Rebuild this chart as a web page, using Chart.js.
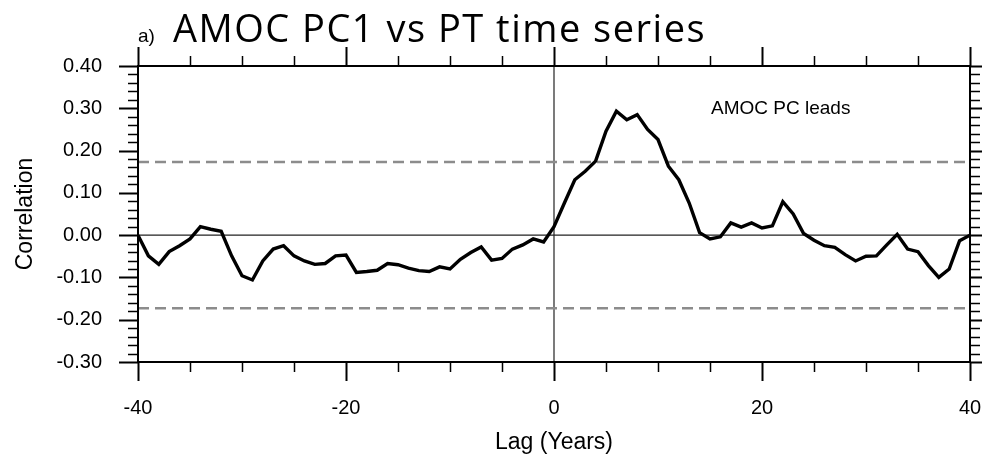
<!DOCTYPE html>
<html>
<head>
<meta charset="utf-8">
<script src="https://cdn.jsdelivr.net/npm/chart.js@4.4.1/dist/chart.umd.min.js"></script>
<style>
  html, body { margin: 0; padding: 0; background: #fff; }
  #wrap { width: 982px; height: 458px; }
</style>
</head>
<body>
<div id="wrap"><canvas id="lagChart" width="982" height="458"></canvas></div>
<script>
// lag in years, AMOC PC1 vs PT correlation
let lags = [-40, -39, -38, -37, -36, -35, -34, -33, -32, -31,
            -30, -29, -28, -27, -26, -25, -24, -23, -22, -21,
            -20, -19, -18, -17, -16, -15, -14, -13, -12, -11,
            -10, -9, -8, -7, -6, -5, -4, -3, -2, -1,
            0, 1, 2, 3, 4, 5, 6, 7, 8, 9,
            10, 11, 12, 13, 14, 15, 16, 17, 18, 19,
            20, 21, 22, 23, 24, 25, 26, 27, 28, 29,
            30, 31, 32, 33, 34, 35, 36, 37, 38, 39, 40];
let correlation = [0.000, -0.049, -0.069, -0.039, -0.025, -0.009, 0.020, 0.014, 0.009, -0.049,
                   -0.096, -0.106, -0.061, -0.033, -0.025, -0.049, -0.061, -0.069, -0.067, -0.049,
                   -0.047, -0.088, -0.086, -0.083, -0.067, -0.070, -0.078, -0.084, -0.086, -0.075,
                   -0.080, -0.057, -0.041, -0.028, -0.059, -0.055, -0.033, -0.023, -0.009, -0.016,
                   0.020, 0.076, 0.131, 0.151, 0.175, 0.246, 0.293, 0.273, 0.285, 0.250,
                   0.226, 0.163, 0.131, 0.076, 0.006, -0.009, -0.004, 0.029, 0.019, 0.029,
                   0.017, 0.022, 0.079, 0.050, 0.004, -0.012, -0.025, -0.029, -0.046, -0.061,
                   -0.050, -0.049, -0.023, 0.002, -0.033, -0.039, -0.072, -0.100, -0.080, -0.013, 0.000];
let sigLevel = 0.173;
let xRange = [-40, 40];
let yRange = [-0.30, 0.40];
let xMajor = 20, xMinor = 5;
let yMajor = 0.1, yMinor = 0.02;

let linePoints = lags.map((l, i) => ({ x: l, y: correlation[i] }));

// box, outward ticks on all four sides, title and note
let framePlugin = {
  id: "frame",
  afterDraw(chart) {
    let ctx = chart.ctx;
    let a = chart.chartArea;
    let xs = chart.scales.x;
    let ys = chart.scales.y;
    ctx.save();
    ctx.strokeStyle = "#000";
    ctx.lineCap = "butt";

    for (let v = xRange[0]; v <= xRange[1] + 1e-9; v += xMinor) {
      let px = Math.round(xs.getPixelForValue(v)) + 0.5;
      let major = Math.abs(v % xMajor) < 1e-9;
      let len = major ? 19 : 10;
      ctx.lineWidth = major ? 2 : 1.5;
      ctx.beginPath();
      ctx.moveTo(px, a.bottom); ctx.lineTo(px, a.bottom + len);
      ctx.moveTo(px, a.top); ctx.lineTo(px, a.top - len);
      ctx.stroke();
    }
    let nY = Math.round((yRange[1] - yRange[0]) / yMinor);
    for (let i = 0; i <= nY; i++) {
      let v = yRange[0] + i * yMinor;
      let py = Math.round(ys.getPixelForValue(v)) + 0.5;
      let major = i % 5 === 0;
      let len = major ? 19 : 10;
      ctx.lineWidth = major ? 2 : 1.5;
      ctx.beginPath();
      ctx.moveTo(a.left, py); ctx.lineTo(a.left - len, py);
      ctx.moveTo(a.right, py); ctx.lineTo(a.right + len, py);
      ctx.stroke();
    }

    ctx.lineWidth = 2;
    ctx.strokeRect(a.left, a.top, a.right - a.left, a.bottom - a.top);

    ctx.fillStyle = "#000";
    ctx.textBaseline = "alphabetic";
    ctx.textAlign = "left";
    ctx.font = "19px 'Liberation Sans', Arial, sans-serif";
    ctx.fillText("a)", 138, 42);
    ctx.font = "38px 'Open Sans', Lato, sans-serif";
    ctx.letterSpacing = "1.5px";
    ctx.fillText("AMOC PC1 vs PT time series", 173, 42);
    ctx.letterSpacing = "0px";

    ctx.font = "19px 'Liberation Sans', Arial, sans-serif";
    ctx.textBaseline = "middle";
    ctx.fillText("AMOC PC leads", xs.getPixelForValue(15.1), ys.getPixelForValue(0.300));
    ctx.restore();
  }
};

let data = {
  datasets: [
    {
      label: "correlation",
      data: linePoints,
      borderColor: "#000",
      borderWidth: 3.4,
      pointRadius: 0,
      tension: 0,
      order: 0
    },
    {
      label: "upper",
      data: [{ x: xRange[0], y: sigLevel }, { x: xRange[1], y: sigLevel }],
      borderColor: "#8c8c8c",
      borderWidth: 2.5,
      borderDash: [11, 6],
      pointRadius: 0,
      order: 1
    },
    {
      label: "lower",
      data: [{ x: xRange[0], y: -sigLevel }, { x: xRange[1], y: -sigLevel }],
      borderColor: "#8c8c8c",
      borderWidth: 2.5,
      borderDash: [11, 6],
      pointRadius: 0,
      order: 1
    },
    {
      label: "zero",
      data: [{ x: xRange[0], y: 0 }, { x: xRange[1], y: 0 }],
      borderColor: "#222",
      borderWidth: 1.2,
      pointRadius: 0,
      order: 2
    },
    {
      label: "lag0",
      data: [{ x: 0, y: yRange[0] }, { x: 0, y: yRange[1] }],
      borderColor: "#222",
      borderWidth: 1.2,
      pointRadius: 0,
      order: 2
    }
  ]
};

let tickFont = { family: "'Liberation Sans', Arial, sans-serif", size: 20 };
let titleFont = { family: "'Liberation Sans', Arial, sans-serif", size: 23 };

let options = {
  responsive: false,
  animation: false,
  layout: { padding: { top: 66, right: 12, left: 0, bottom: 0 } },
  plugins: {
    legend: { display: false },
    tooltip: { enabled: false }
  },
  scales: {
    x: {
      type: "linear",
      min: xRange[0],
      max: xRange[1],
      grid: { display: false, tickLength: 0 },
      border: { display: false },
      ticks: {
        stepSize: xMajor,
        color: "#000",
        font: tickFont,
        padding: 34,
        maxRotation: 0
      },
      title: {
        display: true,
        text: "Lag (Years)",
        color: "#000",
        font: titleFont,
        padding: { top: 0, bottom: 2 }
      },
      afterFit(scale) {
        scale.height = 96;
        scale.paddingLeft = 0;
        scale.paddingRight = 0;
      }
    },
    y: {
      type: "linear",
      min: yRange[0],
      max: yRange[1],
      grid: { display: false, tickLength: 0 },
      border: { display: false },
      ticks: {
        stepSize: yMajor,
        color: "#000",
        font: tickFont,
        padding: 36,
        callback: v => (Math.abs(v) < 1e-9 ? 0 : v).toFixed(2)
      },
      title: {
        display: true,
        text: "Correlation",
        color: "#000",
        font: titleFont,
        padding: { top: 12, bottom: 0 }
      },
      afterFit(scale) {
        scale.width = 138;
        scale.paddingTop = 0;
        scale.paddingBottom = 0;
      }
    }
  }
};

let ctx = document.getElementById("lagChart").getContext("2d");
let lagChart = new Chart(ctx, {
  type: "line",
  data: data,
  options: options,
  plugins: [framePlugin]
});
</script>
</body>
</html>
